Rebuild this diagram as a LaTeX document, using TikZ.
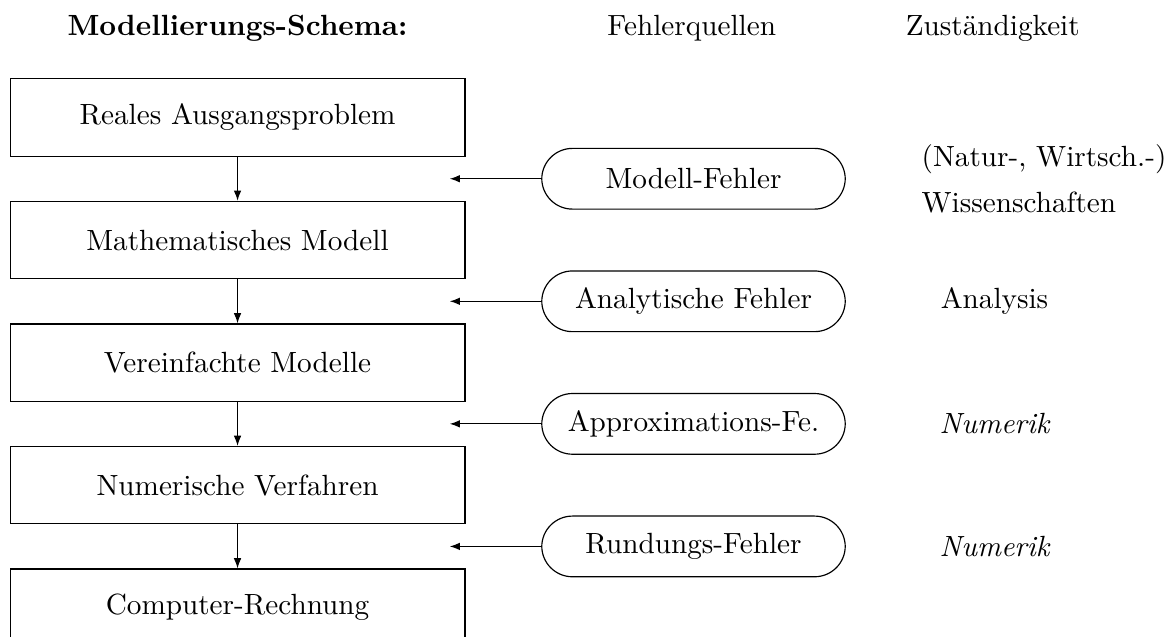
\documentclass[tikz,border=0pt]{standalone}
\usepackage{tikz}
\usetikzlibrary{arrows.meta,positioning,calc}
\tikzset{
  stufe/.style={draw,line width=0.4pt,minimum width=5.47cm,minimum height=0.93cm,inner sep=3pt},
  fehler/.style={draw,line width=0.4pt,rounded corners=10.5pt,minimum width=3.65cm,minimum height=0.73cm,inner sep=3pt},
  pfeil/.style={-{Latex[length=3.5pt,width=2.6pt]},line width=0.4pt},
  kopf/.style={anchor=base,inner sep=0pt},
  zust/.style={inner sep=3pt},
}

\begin{document}
\begin{tikzpicture}[x=1cm,y=1cm,node distance=0.53cm]
  \useasboundingbox (0,0) rectangle (14,-7.66);
  % Spaltenkoepfe
  \node[kopf,font=\bfseries] (hSchema) at (2.857,-0.43) {Modellierungs-Schema:};
  \node[kopf] (hFehler) at (8.32,-0.43) {Fehlerquellen};
  \node[kopf] (hZust)   at (11.94,-0.43) {Zuständigkeit};

  \node[stufe] (real) at (2.857,-1.413) {Reales Ausgangsproblem};
  \node[stufe,below=of real]   (mathm)  {Mathematisches Modell};
  \node[stufe,below=of mathm]  (verein) {Vereinfachte Modelle};
  \node[stufe,below=of verein] (numv)   {Numerische Verfahren};
  \node[stufe,below=of numv]   (comp)   {Computer-Rechnung};

  % Spitzen der Fehlerpfeile liegen im Zwischenraum der Kaesten
  \coordinate (e1) at ($(real.south east)!0.5!(mathm.north east)+(-0.19,0)$);
  \coordinate (e2) at ($(mathm.south east)!0.5!(verein.north east)+(-0.19,0)$);
  \coordinate (e3) at ($(verein.south east)!0.5!(numv.north east)+(-0.19,0)$);
  \coordinate (e4) at ($(numv.south east)!0.5!(comp.north east)+(-0.19,0)$);

  \node[fehler,right=1.1cm of e1] (fModell) {Modell-Fehler};
  \node[fehler,right=1.1cm of e2] (fAna)    {Analytische Fehler};
  \node[fehler,right=1.1cm of e3] (fApprox) {Approximations-Fe.};
  \node[fehler,right=1.1cm of e4] (fRund)   {Rundungs-Fehler};

  \node[zust,right=0.8cm of fModell,align=left] (zNatur) {(Natur-, Wirtsch.-)\\[4pt]Wissenschaften};
  \node[zust] (zAna) at ($(fAna)+(3.62,0)$) {Analysis};
  \node[zust,font=\itshape] (zApprox) at ($(fApprox)+(3.62,0)$) {Numerik};
  \node[zust,font=\itshape] (zRund)   at ($(fRund)+(3.62,0)$)   {Numerik};

  \draw[pfeil] (real) -- (mathm);
  \draw[pfeil] (mathm) -- (verein);
  \draw[pfeil] (verein) -- (numv);
  \draw[pfeil] (numv) -- (comp);

  \draw[pfeil] (fModell) -- (e1);
  \draw[pfeil] (fAna) -- (e2);
  \draw[pfeil] (fApprox) -- (e3);
  \draw[pfeil] (fRund) -- (e4);
\end{tikzpicture}
\end{document}
